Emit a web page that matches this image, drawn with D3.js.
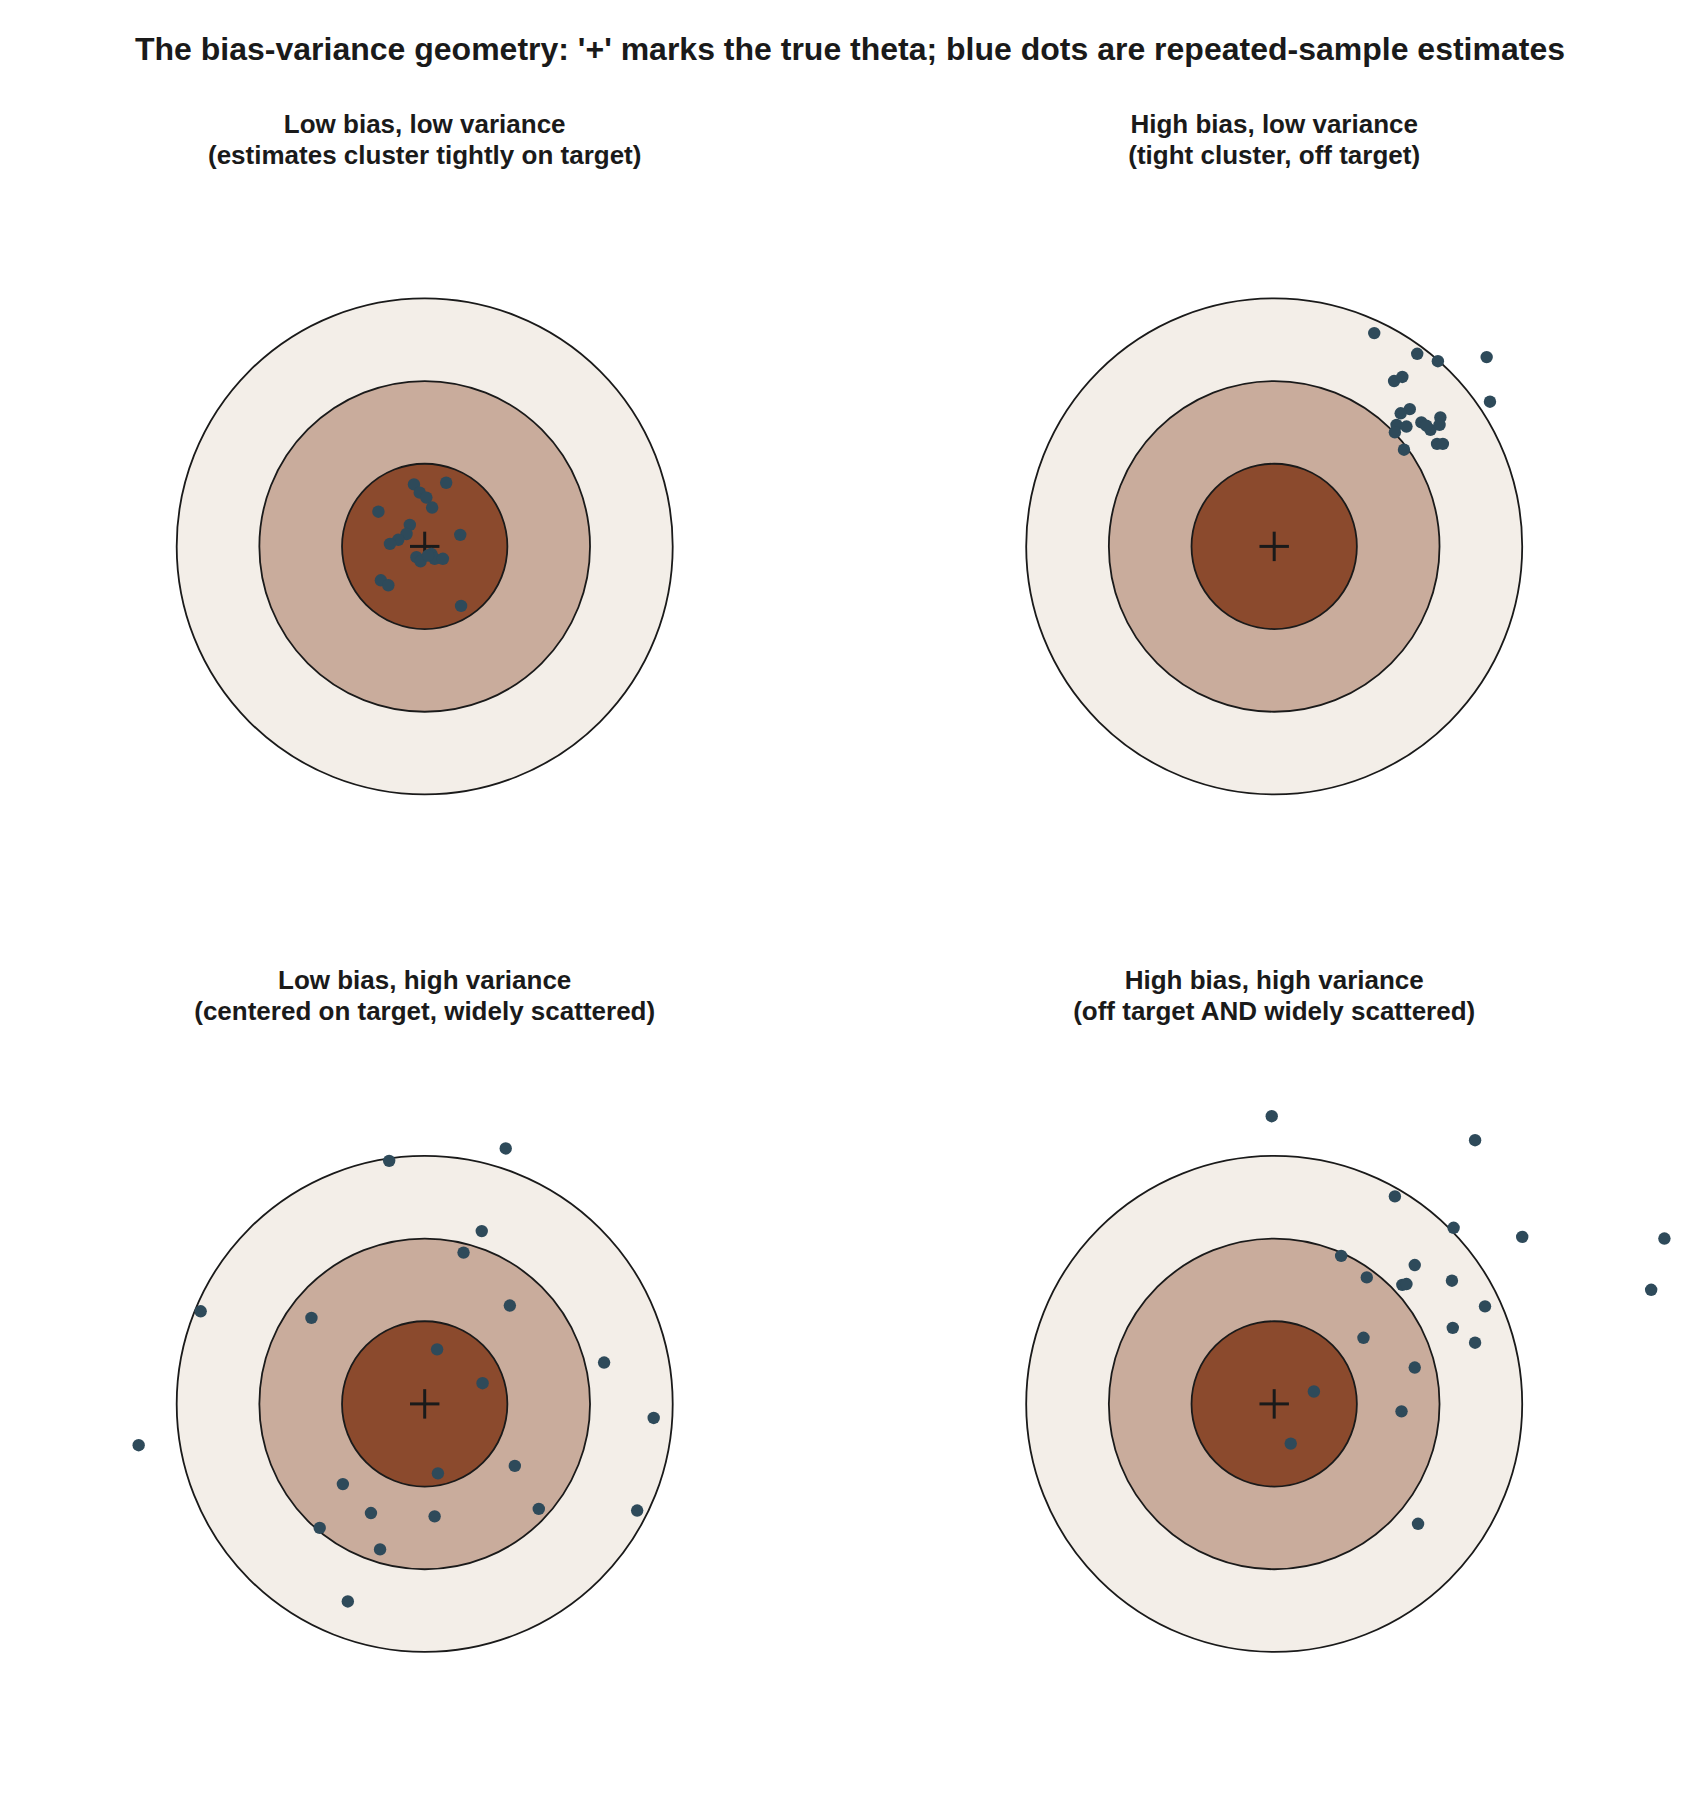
<!DOCTYPE html>
<html>
<head>
<meta charset="utf-8">
<script src="https://cdn.jsdelivr.net/npm/d3@7"></script>
<style>
  html, body { margin: 0; padding: 0; background: #ffffff; }
  svg { display: block; }
</style>
</head>
<body>
<div id="chart"></div>
<script>
// ---------------- data ----------------
const mainTitle = "The bias-variance geometry: '+' marks the true theta; blue dots are repeated-sample estimates";

const panelTitles = [
  ["Low bias, low variance", "(estimates cluster tightly on target)"],
  ["High bias, low variance", "(tight cluster, off target)"],
  ["Low bias, high variance", "(centered on target, widely scattered)"],
  ["High bias, high variance", "(off target AND widely scattered)"]
];

const ringRadii = [3, 2, 1];
const ringColors = ["#F3EEE8", "#C9AC9C", "#8B4A2D"];
const truth = [0, 0];

// estimates (x, y) in target units
const lowBiasLowVar = [
  [-0.13, 0.75], [-0.06, 0.65], [0.02, 0.59], [0.09, 0.47], [0.26, 0.77],
  [-0.56, 0.42], [-0.18, 0.26], [-0.22, 0.15], [-0.32, 0.08], [-0.42, 0.03],
  [0.43, 0.14], [-0.10, -0.13], [-0.05, -0.18], [0.08, -0.09], [0.12, -0.15],
  [0.22, -0.15], [-0.53, -0.41], [-0.44, -0.47], [0.44, -0.72], [0.04, -0.11]
];
const highBiasLowVar = [
  [1.21, 2.58], [1.73, 2.33], [1.98, 2.24], [2.57, 2.29], [1.45, 2.00],
  [1.55, 2.05], [2.61, 1.75], [1.64, 1.66], [1.53, 1.61], [1.48, 1.47],
  [1.60, 1.45], [1.46, 1.38], [1.78, 1.50], [1.89, 1.41], [2.01, 1.56],
  [2.00, 1.47], [1.97, 1.24], [2.04, 1.24], [1.57, 1.17], [1.84, 1.46]
];
const lowBiasHighVar = [
  [0.98, 3.09], [-0.43, 2.94], [0.69, 2.09], [0.47, 1.83], [-2.71, 1.12],
  [-1.37, 1.04], [1.03, 1.19], [0.15, 0.66], [2.17, 0.50], [0.70, 0.25],
  [2.77, -0.17], [-3.46, -0.50], [1.09, -0.75], [0.16, -0.84], [-0.99, -0.97],
  [-0.65, -1.32], [0.12, -1.36], [1.38, -1.27], [2.57, -1.29], [-1.27, -1.50],
  [-0.54, -1.76], [-0.93, -2.39]
];
const highBiasHighVar = [
  [-0.03, 3.48], [2.43, 3.19], [1.46, 2.51], [2.17, 2.13], [3.00, 2.02],
  [4.72, 2.00], [0.81, 1.79], [1.70, 1.68], [1.12, 1.53], [1.55, 1.44],
  [1.60, 1.45], [2.15, 1.49], [4.56, 1.38], [2.55, 1.18], [2.16, 0.92],
  [2.43, 0.74], [1.08, 0.80], [1.70, 0.44], [0.48, 0.15], [1.54, -0.09],
  [0.20, -0.48], [1.74, -1.45]
];
const panelData = [lowBiasLowVar, highBiasLowVar, lowBiasHighVar, highBiasHighVar];

// ---------------- layout ----------------
const W = 1700, H = 1800;
const unitPx = 82.67;
const panelCenters = [[424.7, 546.4], [1274.2, 546.4], [424.7, 1403.9], [1274.2, 1403.9]];
const titleOffsets = [-413.5, -382.5]; // baseline offsets of panel title lines relative to centre

const svg = d3.select("#chart").append("svg")
  .attr("width", W).attr("height", H)
  .style("font-family", "'Liberation Sans', Arial, sans-serif");

svg.append("rect").attr("width", W).attr("height", H).attr("fill", "#ffffff");

svg.append("text")
  .attr("x", W / 2).attr("y", 60)
  .attr("text-anchor", "middle")
  .attr("font-size", 32).attr("font-weight", "bold")
  .attr("fill", "#1a1a1a")
  .text(mainTitle);

panelData.forEach((pts, i) => {
  const [cx, cy] = panelCenters[i];
  const x = d3.scaleLinear().domain([-3, 3]).range([cx - 3 * unitPx, cx + 3 * unitPx]);
  const y = d3.scaleLinear().domain([-3, 3]).range([cy + 3 * unitPx, cy - 3 * unitPx]);
  const g = svg.append("g");

  // titles
  panelTitles[i].forEach((t, k) => {
    g.append("text")
      .attr("x", cx).attr("y", cy + titleOffsets[k] - (i >= 2 ? 1 : 0))
      .attr("text-anchor", "middle")
      .attr("font-size", 26).attr("font-weight", "bold")
      .attr("fill", "#1a1a1a")
      .text(t);
  });

  // rings
  g.selectAll("circle.ring").data(ringRadii).enter().append("circle")
    .attr("class", "ring")
    .attr("cx", x(truth[0])).attr("cy", y(truth[1]))
    .attr("r", d => x(d) - x(0))
    .attr("fill", (d, j) => ringColors[j])
    .attr("stroke", "#1a1a1a").attr("stroke-width", 1.8);

  // true theta '+'
  const half = 0.178;
  g.append("line")
    .attr("x1", x(truth[0] - half)).attr("x2", x(truth[0] + half))
    .attr("y1", y(truth[1])).attr("y2", y(truth[1]))
    .attr("stroke", "#1a1a1a").attr("stroke-width", 3);
  g.append("line")
    .attr("x1", x(truth[0])).attr("x2", x(truth[0]))
    .attr("y1", y(truth[1] - half)).attr("y2", y(truth[1] + half))
    .attr("stroke", "#1a1a1a").attr("stroke-width", 3);

  // estimates
  g.selectAll("circle.dot").data(pts).enter().append("circle")
    .attr("class", "dot")
    .attr("cx", d => x(d[0])).attr("cy", d => y(d[1]))
    .attr("r", 6.2)
    .attr("fill", "#2E4A5A");
});
</script>
</body>
</html>
